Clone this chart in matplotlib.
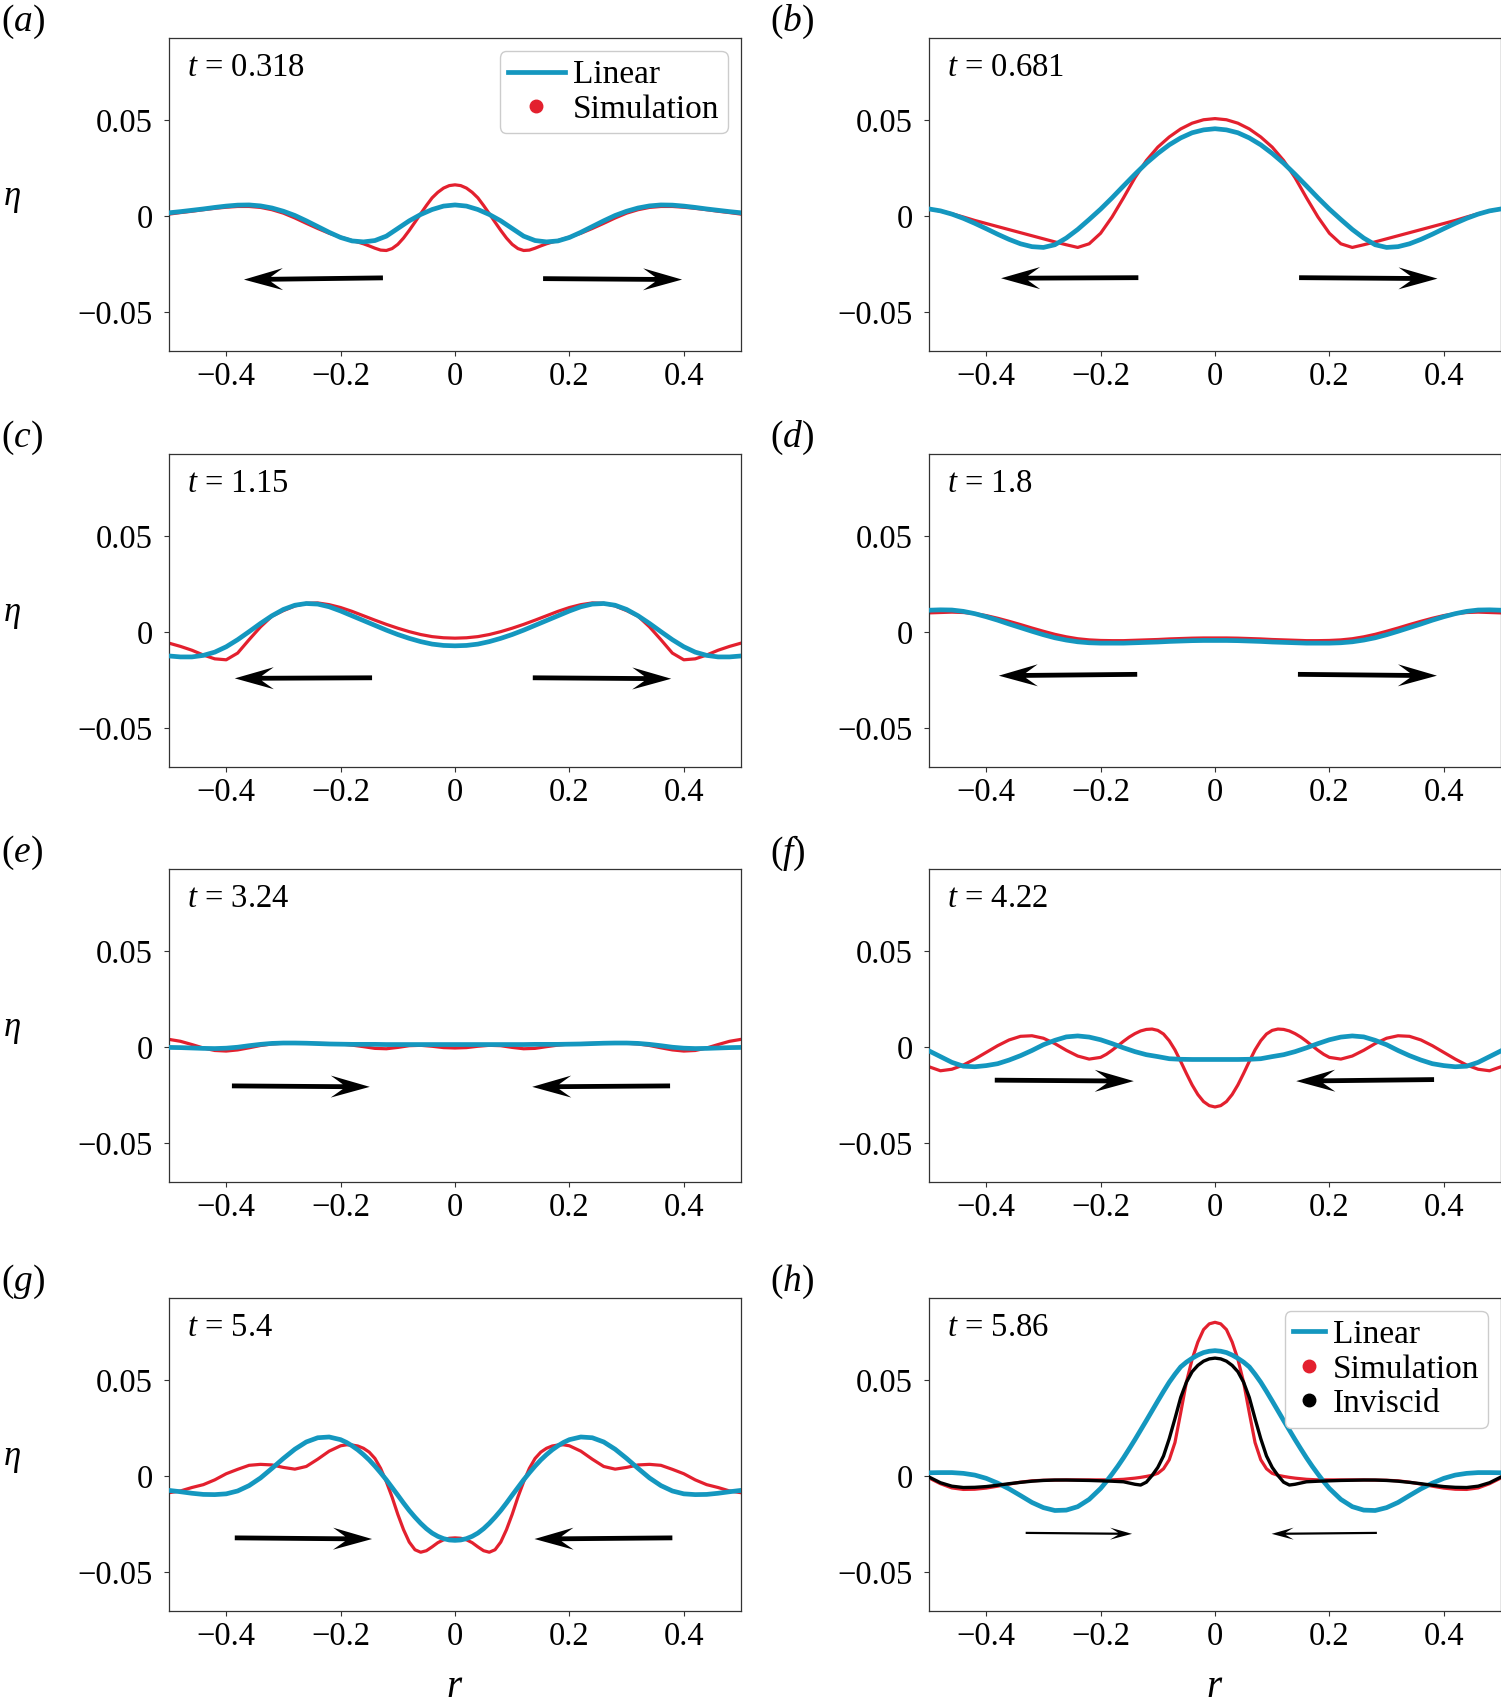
import numpy as np
import matplotlib
matplotlib.use("Agg")
import matplotlib.pyplot as plt
from matplotlib.lines import Line2D
from matplotlib.patches import Polygon
from matplotlib.transforms import IdentityTransform

plt.rcParams.update({
    "font.family": "Liberation Serif",
    "font.size": 23.5,
    "mathtext.fontset": "custom",
    "mathtext.rm": "Liberation Serif",
    "mathtext.it": "Liberation Serif:italic",
    "mathtext.bf": "Liberation Serif:bold",
    "axes.unicode_minus": True,
})

BLUE = "#1497BF"
RED = "#E3202E"

# profiles are symmetric about r = 0, values read for r >= 0
r_half = np.round(np.arange(26) * 0.02, 2)
r_fine_half = np.array([0.0, 0.01, 0.02, 0.03, 0.04, 0.05, 0.06, 0.07, 0.08, 0.09, 0.10,
                        0.11, 0.12, 0.13, 0.14, 0.15, 0.16, 0.17, 0.18, 0.19, 0.20,
                        0.22, 0.24, 0.26, 0.28, 0.30, 0.32, 0.34, 0.36, 0.38, 0.40,
                        0.42, 0.44, 0.46, 0.48, 0.50])
r_h_half = np.array([0.0, 0.01, 0.02, 0.03, 0.04, 0.05, 0.06, 0.07, 0.08, 0.09, 0.10,
                     0.11, 0.12, 0.13, 0.14, 0.16, 0.18, 0.20, 0.22, 0.24, 0.26, 0.28,
                     0.30, 0.32, 0.34, 0.36, 0.38, 0.40, 0.42, 0.44, 0.46, 0.48, 0.50])

a_lin = [0.0058, 0.0052, 0.0034, 0.0008, -0.0025, -0.0065, -0.0105, -0.0128, -0.0135, -0.0130,
         -0.0112, -0.0085, -0.0055, -0.0025, 0.0003, 0.0025, 0.0042, 0.0053, 0.0058, 0.0057,
         0.0052, 0.0045, 0.0037, 0.0030, 0.0023, 0.0017]
a_sim = [0.0163, 0.0159, 0.0146, 0.0124, 0.0095, 0.0055, 0.0012, -0.0032, -0.0075, -0.0115,
         -0.0148, -0.0170, -0.0180, -0.0178, -0.0168, -0.0156, -0.0145, -0.0136, -0.0128, -0.0119,
         -0.0110, -0.0090, -0.0065, -0.0038, -0.0010, 0.0015, 0.0033, 0.0045, 0.0050, 0.0050,
         0.0046, 0.0040, 0.0033, 0.0025, 0.0018, 0.0010]

b_lin = [0.0456, 0.0450, 0.0435, 0.0408, 0.0372, 0.0327, 0.0276, 0.0218, 0.0157, 0.0095,
         0.0036, -0.0018, -0.0070, -0.0115, -0.0150, -0.0164, -0.0160, -0.0145, -0.0122, -0.0095,
         -0.0066, -0.0038, -0.0012, 0.0010, 0.0027, 0.0037]
b_sim = [0.0509, 0.0503, 0.0485, 0.0455, 0.0413, 0.0360, 0.0290, 0.0200, 0.0095, -0.0005,
         -0.0090, -0.0145, -0.0164, -0.0150, -0.0135, -0.0119, -0.0103, -0.0087, -0.0071, -0.0055,
         -0.0039, -0.0023, -0.0005, 0.0012, 0.0026, 0.0037]

c_lin = [-0.0072, -0.0070, -0.0063, -0.0050, -0.0033, -0.0013, 0.0010, 0.0035, 0.0060, 0.0085,
         0.0110, 0.0132, 0.0146, 0.0149, 0.0140, 0.0118, 0.0085, 0.0045, 0.0002, -0.0040,
         -0.0077, -0.0105, -0.0122, -0.0130, -0.0130, -0.0125]
c_sim = [-0.0032, -0.0030, -0.0024, -0.0013, 0.0002, 0.0020, 0.0040, 0.0062, 0.0085, 0.0108,
         0.0128, 0.0143, 0.0152, 0.0150, 0.0136, 0.0112, 0.0083, 0.0027, -0.0040, -0.0110,
         -0.0145, -0.0140, -0.0120, -0.0095, -0.0075, -0.0058]

d_lin = [-0.0044, -0.0044, -0.0045, -0.0047, -0.0049, -0.0052, -0.0054, -0.0056, -0.0058, -0.0058,
         -0.0058, -0.0056, -0.0051, -0.0042, -0.0030, -0.0014, 0.0004, 0.0023, 0.0042, 0.0062,
         0.0080, 0.0096, 0.0108, 0.0115, 0.0116, 0.0114]
d_sim = [-0.0031, -0.0031, -0.0032, -0.0034, -0.0036, -0.0039, -0.0041, -0.0043, -0.0045, -0.0045,
         -0.0044, -0.0041, -0.0035, -0.0025, -0.0012, 0.0004, 0.0021, 0.0039, 0.0056, 0.0072,
         0.0086, 0.0096, 0.0102, 0.0104, 0.0102, 0.0100]

e_lin = [0.0013, 0.0013, 0.0013, 0.0013, 0.0013, 0.0013, 0.0013, 0.0014, 0.0014, 0.0014,
         0.0015, 0.0016, 0.0018, 0.0020, 0.0021, 0.0021, 0.0019, 0.0014, 0.0007, -0.0001,
         -0.0006, -0.0008, -0.0007, -0.0005, -0.0003, -0.0002]
e_sim = [-0.0005, -0.0003, 0.0004, 0.0009, 0.0007, -0.0002, -0.0009, -0.0007, 0.0002, 0.0010,
         0.0016, 0.0018, 0.0019, 0.0020, 0.0021, 0.0020, 0.0016, 0.0008, -0.0004, -0.0015,
         -0.0021, -0.0018, -0.0005, 0.0013, 0.0030, 0.0040]

f_lin = [-0.0065, -0.0065, -0.0065, -0.0064, -0.0061, -0.0050, -0.0040, -0.0024, -0.0004, 0.0018,
         0.0038, 0.0052, 0.0058, 0.0053, 0.0035, 0.0012, -0.0018, -0.0045, -0.0068, -0.0087,
         -0.0097, -0.0103, -0.0100, -0.0080, -0.0050, -0.0020]
f_sim = [-0.0313, -0.0306, -0.0285, -0.0248, -0.0198, -0.0138, -0.0075, -0.0015, 0.0033, 0.0068,
         0.0087, 0.0094, 0.0092, 0.0084, 0.0070, 0.0052, 0.0030, 0.0006, -0.0017, -0.0038,
         -0.0054, -0.0063, -0.0047, -0.0017, 0.0018, 0.0046, 0.0059, 0.0056, 0.0037, 0.0007,
         -0.0028, -0.0063, -0.0094, -0.0116, -0.0124, -0.0103]

g_lin = [-0.0336, -0.0334, -0.0327, -0.0315, -0.0298, -0.0275, -0.0247, -0.0215, -0.0180, -0.0141,
         -0.0100, -0.0060, -0.0020, 0.0017, 0.0052, 0.0084, 0.0112, 0.0137, 0.0158, 0.0176,
         0.0190, 0.0204, 0.0200, 0.0178, 0.0140, 0.0092, 0.0040, -0.0010, -0.0050, -0.0078,
         -0.0093, -0.0097, -0.0096, -0.0090, -0.0082, -0.0075]
g_sim = [-0.0323, -0.0325, -0.0333, -0.0348, -0.0370, -0.0390, -0.0398, -0.0385, -0.0345, -0.0280,
         -0.0200, -0.0110, -0.0030, 0.0040, 0.0092, 0.0125, 0.0145, 0.0157, 0.0162, 0.0163,
         0.0158, 0.0130, 0.0088, 0.0050, 0.0036, 0.0045, 0.0058, 0.0061, 0.0056, 0.0035,
         0.0012, -0.0020, -0.0045, -0.0060, -0.0078, -0.0087]

h_lin = [0.0655, 0.0652, 0.0645, 0.0632, 0.0615, 0.0595, 0.0570, 0.0532, 0.0490, 0.0442,
         0.0392, 0.0341, 0.0290, 0.0240, 0.0190, 0.0142, 0.0095, 0.0051, 0.0010, -0.0029,
         -0.0065, -0.0122, -0.0160, -0.0178, -0.0180, -0.0165, -0.0138, -0.0102, -0.0067, -0.0037,
         -0.0012, 0.0005, 0.0014, 0.0018, 0.0018, 0.0017]
h_sim = [0.0803, 0.0795, 0.0765, 0.0700, 0.0610, 0.0490, 0.0330, 0.0175, 0.0085, 0.0038, 0.0014,
         0.0004, -0.0002, -0.0007, -0.0011, -0.0017, -0.0020, -0.0020, -0.0020, -0.0020, -0.0020,
         -0.0021, -0.0022, -0.0025, -0.0032, -0.0042, -0.0053, -0.0063, -0.0069, -0.0070, -0.0062,
         -0.0040, -0.0010]
h_inv = [0.0616, 0.0612, 0.0600, 0.0578, 0.0545, 0.0490, 0.0410, 0.0300, 0.0195, 0.0105, 0.0045,
         0.0003, -0.0032, -0.0047, -0.0043, -0.0030, -0.0027, -0.0025, -0.0023, -0.0022, -0.0021,
         -0.0021, -0.0023, -0.0027, -0.0033, -0.0040, -0.0048, -0.0055, -0.0059, -0.0060, -0.0053,
         -0.0035, -0.0005]

labels = ["a", "b", "c", "d", "e", "f", "g", "h"]
times = ["0.318", "0.681", "1.15", "1.8", "3.24", "4.22", "5.4", "5.86"]
linear = [a_lin, b_lin, c_lin, d_lin, e_lin, f_lin, g_lin, h_lin]
simulation = [a_sim, b_sim, c_sim, d_sim, e_sim, f_sim, g_sim, h_sim]

# arrows: (tail r, tail eta, tip r, tip eta)
arrows = [
    [(-0.126, -0.0323, -0.369, -0.0332), (0.154, -0.0327, 0.397, -0.0332)],
    [(-0.134, -0.0322, -0.374, -0.0325), (0.147, -0.0322, 0.389, -0.0327)],
    [(-0.145, -0.0239, -0.385, -0.0242), (0.136, -0.0239, 0.378, -0.0244)],
    [(-0.136, -0.0221, -0.378, -0.0228), (0.145, -0.0221, 0.388, -0.0228)],
    [(-0.390, -0.0203, -0.149, -0.0208), (0.376, -0.0203, 0.135, -0.0208)],
    [(-0.385, -0.0173, -0.142, -0.0178), (0.383, -0.0170, 0.142, -0.0178)],
    [(-0.385, -0.0323, -0.145, -0.0329), (0.380, -0.0323, 0.139, -0.0329)],
    [(-0.331, -0.0297, -0.145, -0.0302), (0.283, -0.0297, 0.099, -0.0302)],
]

xticks = [-0.4, -0.2, 0, 0.2, 0.4]
xticklabels = ["\u22120.4", "\u22120.2", "0", "0.2", "0.4"]
yticks = [-0.05, 0, 0.05]
yticklabels = ["\u22120.05", "0", "0.05"]


def mirror(half):
    half = np.asarray(half, dtype=float)
    return np.concatenate([half[::-1], half[1:]])


def mirror_r(half):
    half = np.asarray(half, dtype=float)
    return np.concatenate([-half[::-1], half[1:]])


def grid_for(values):
    if len(values) == len(r_fine_half):
        return mirror_r(r_fine_half)
    if len(values) == len(r_h_half):
        return mirror_r(r_h_half)
    return mirror_r(r_half)


def add_arrow(ax, tail, tip, shaft_w, head_len, head_w, notch):
    p0 = ax.transData.transform(tail)
    p1 = ax.transData.transform(tip)
    d = p1 - p0
    u = d / np.hypot(*d)
    n = np.array([-u[1], u[0]])
    join = p1 - u * notch
    back = p1 - u * head_len
    verts = [p0 + n * shaft_w, join + n * shaft_w, back + n * head_w, p1,
             back - n * head_w, join - n * shaft_w, p0 - n * shaft_w]
    ax.add_patch(Polygon(verts, closed=True, transform=IdentityTransform(),
                         facecolor="k", edgecolor="none", zorder=6))


W, H = 1501, 1707
fig = plt.figure(figsize=(W / 100, H / 100), dpi=100)

lefts = [169 / W, 929 / W]
tops = [38, 454, 869, 1298]
ax_w = 572 / W
ax_h = 313 / H

for i in range(8):
    row, col = divmod(i, 2)
    bottom = 1 - (tops[row] + 313) / H
    ax = fig.add_axes([lefts[col], bottom, ax_w, ax_h])
    ax.set_xlim(-0.5, 0.5)
    ax.set_ylim(-0.0705, 0.093)

    sim = simulation[i]
    lin = linear[i]
    ax.plot(grid_for(sim), mirror(sim), color=RED, lw=2.3, zorder=2,
            solid_joinstyle="round")
    ax.plot(grid_for(lin), mirror(lin), color=BLUE, lw=3.4, zorder=3,
            solid_joinstyle="round")
    if labels[i] == "h":
        ax.plot(grid_for(h_inv), mirror(h_inv), color="k", lw=2.4, zorder=4,
                solid_joinstyle="round")

    ax.set_xticks(xticks)
    ax.set_xticklabels(xticklabels)
    ax.set_yticks(yticks)
    ax.set_yticklabels(yticklabels)
    ax.tick_params(direction="out", length=3.6, width=0.8, color="#333333", labelsize=23.5)
    ax.tick_params(axis="x", pad=4)
    ax.tick_params(axis="y", pad=8)
    for sp in ax.spines.values():
        sp.set_color("#333333")
        sp.set_linewidth(0.9)

    ax.text(0.031, 0.879, r"$t$ = " + times[i], transform=ax.transAxes,
            ha="left", va="baseline", fontsize=23.5)

    for (x0, y0, x1, y1) in arrows[i]:
        if labels[i] == "h":
            add_arrow(ax, (x0, y0), (x1, y1), 1.1, 22, 6, 14)
        else:
            add_arrow(ax, (x0, y0), (x1, y1), 2.4, 39, 11, 27)

    top_frac = 1 - tops[row] / H
    lab_x = 1 / W if col == 0 else 770 / W
    fig.text(lab_x, top_frac + 16 / H, "$(" + labels[i] + ")$", ha="left", va="center", fontsize=27)
    if col == 0:
        fig.text(3 / W, bottom + ax_h / 2 - 4 / H, r"$\eta$", ha="left", va="center", fontsize=25)
    if row == 3:
        ax.set_xlabel(r"$r$", fontsize=28, labelpad=12)

    if labels[i] in ("a", "h"):
        handles = [Line2D([], [], color=BLUE, lw=3.4),
                   Line2D([], [], color=RED, marker="o", ls="none", ms=9)]
        names = ["Linear", "Simulation"]
        hl = 1.7
        if labels[i] == "h":
            handles.append(Line2D([], [], color="k", marker="o", ls="none", ms=9))
            names.append("Inviscid")
            hl = 0.95
        ax.legend(handles, names, loc="upper right", fontsize=24, handlelength=hl,
                  handletextpad=0.25, borderpad=0.25, labelspacing=0.12,
                  borderaxespad=0.4, edgecolor="#cccccc", framealpha=1.0)

fig.savefig("out.png", dpi=100)
